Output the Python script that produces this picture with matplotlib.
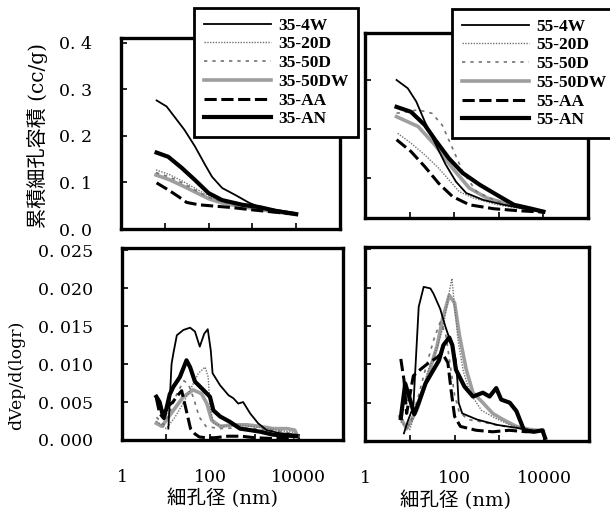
import numpy as np
import matplotlib
matplotlib.use("Agg")
from matplotlib import pyplot as plt
from matplotlib.font_manager import FontProperties

plt.rcParams['font.family'] = ['DejaVu Serif', 'Noto Sans CJK JP']

# ---- cumulative pore volume (cc/g), 35 samples ----
d_35_4W_cum = [6.5, 11, 16.6, 28, 49, 83, 120, 204, 407, 851, 1700, 3400, 10000]
v_35_4W_cum = [0.276, 0.263, 0.241, 0.213, 0.177, 0.138, 0.112, 0.088, 0.073, 0.056, 0.045, 0.041, 0.034]
d_35_AN_cum = [6.5, 12, 24.5, 49, 100, 204, 589, 1445, 3400, 10000]
v_35_AN_cum = [0.164, 0.155, 0.131, 0.105, 0.077, 0.062, 0.052, 0.047, 0.039, 0.032]
d_35_AA_cum = [6.5, 12, 20.9, 31.6, 60, 141, 347, 1000, 3400, 10000]
v_35_AA_cum = [0.099, 0.084, 0.069, 0.057, 0.052, 0.049, 0.046, 0.041, 0.036, 0.032]
d_35_gray_cum = [6.3, 12.6, 25.1, 50.1, 100, 200, 501, 1259, 3162, 10000]
v_35_20D_cum = [0.127, 0.117, 0.103, 0.087, 0.071, 0.060, 0.052, 0.045, 0.039, 0.032]
v_35_50D_cum = [0.121, 0.112, 0.099, 0.083, 0.068, 0.058, 0.050, 0.044, 0.038, 0.031]
v_35_50DW_cum = [0.116, 0.106, 0.093, 0.079, 0.065, 0.056, 0.049, 0.043, 0.037, 0.031]

# ---- cumulative pore volume (cc/g), 55 samples ----
d_55_4W_cum = [5.1, 9.1, 14.1, 21.9, 37.2, 64.6, 110, 186, 447, 1288, 3802, 10000]
v_55_4W_cum = [0.300, 0.283, 0.256, 0.215, 0.171, 0.127, 0.092, 0.069, 0.055, 0.045, 0.037, 0.030]
d_55_AN_cum = [5.1, 10.7, 21.9, 37.2, 75.9, 155, 372, 912, 2188, 5370, 10000]
v_55_AN_cum = [0.245, 0.235, 0.208, 0.178, 0.140, 0.110, 0.086, 0.065, 0.045, 0.037, 0.031]
d_55_AA_cum = [5.1, 10.7, 21.9, 44.7, 91.2, 219, 759, 2630, 10000]
v_55_AA_cum = [0.178, 0.154, 0.123, 0.089, 0.062, 0.045, 0.037, 0.033, 0.030]
d_55_50DW_cum = [5.1, 15.5, 37.2, 91.2, 219, 537, 1862, 7586, 10000]
v_55_50DW_cum = [0.225, 0.205, 0.167, 0.120, 0.079, 0.059, 0.045, 0.033, 0.031]
d_55_50D_cum = [5.1, 10, 15.5, 31.6, 53.7, 91.2, 155, 316, 912, 2500, 10000]
v_55_50D_cum = [0.232, 0.236, 0.239, 0.232, 0.208, 0.161, 0.113, 0.072, 0.052, 0.040, 0.031]
d_55_20D_cum = [5.4, 10.7, 21.9, 44.7, 75.9, 129, 263, 912, 3162, 10000]
v_55_20D_cum = [0.191, 0.171, 0.147, 0.120, 0.096, 0.072, 0.059, 0.045, 0.037, 0.031]

# ---- dVp/d(log r), 35 samples ----
d_35_4W = [11.2, 13.2, 14.5, 17.4, 24.5, 34.7, 44.7, 57.5, 72.4, 87.1, 102, 112, 166, 257, 331, 427, 550, 794, 1202, 1862, 3715, 8913]
v_35_4W = [0.0015, 0.0100, 0.0114, 0.0138, 0.0145, 0.0148, 0.0143, 0.0123, 0.0140, 0.0146, 0.0118, 0.0088,
           0.0072, 0.0059, 0.0055, 0.0048, 0.0050, 0.0035, 0.0022, 0.0013, 0.0009, 0.0007]
d_35_AN = [6.0, 7.1, 8.5, 10, 12, 14.5, 20.4, 28.8, 34.7, 44.7, 69.2, 97.7, 117, 166, 275, 468, 794, 1318, 2630, 8913]
v_35_AN = [0.0057, 0.0050, 0.0031, 0.0040, 0.0060, 0.0070, 0.0083, 0.0105, 0.0096, 0.0077, 0.0066, 0.0057,
           0.0039, 0.0031, 0.0024, 0.0015, 0.0013, 0.0011, 0.0007, 0.0005]
d_35_AA = [6.0, 7.1, 8.9, 11.2, 14.1, 17.8, 22.4, 28.2, 35.5, 44.7, 56.2, 79.4, 126, 251, 501, 1000, 2512, 7943]
v_35_AA = [0.0055, 0.0035, 0.0028, 0.0045, 0.0050, 0.0058, 0.0065, 0.0040, 0.0015, 0.0008, 0.0004, 0.0003,
           0.0003, 0.0005, 0.0005, 0.0003, 0.0002, 0.0002]
d_35_20D = [6.0, 10, 15.8, 22.4, 34.7, 53.7, 75.9, 89.1, 97.7, 117, 195, 398, 794, 1585, 3162, 7943]
v_35_20D = [0.0025, 0.0015, 0.0030, 0.0045, 0.0066, 0.0088, 0.0096, 0.0083, 0.0044, 0.0022, 0.0018, 0.0020,
            0.0018, 0.0016, 0.0013, 0.0010]
d_35_50D = [6.0, 8.9, 12.6, 17.8, 25.1, 31.6, 41.7, 56.2, 79.4, 158, 398, 1000, 3162, 7943]
v_35_50D = [0.0030, 0.0020, 0.0040, 0.0062, 0.0078, 0.0074, 0.0055, 0.0030, 0.0018, 0.0015, 0.0016, 0.0015,
            0.0012, 0.0008]
d_35_50DW = [6.0, 8.0, 14.5, 24.5, 40.7, 63.1, 83.2, 107, 166, 331, 661, 1318, 2630, 5370, 8128, 9333]
v_35_50DW = [0.0022, 0.0018, 0.0039, 0.0057, 0.0066, 0.0061, 0.0048, 0.0026, 0.0018, 0.0020, 0.0020, 0.0018,
             0.0015, 0.0015, 0.0013, 0.0005]

# ---- dVp/d(log r), 55 samples ----
d_55_4W = [7.4, 8.9, 12, 15.8, 20.4, 28.8, 33.9, 47.9, 61.7, 87.1, 105, 115, 123, 148, 316, 891, 2512, 7413]
v_55_4W = [0.0010, 0.0025, 0.0045, 0.0175, 0.0201, 0.0199, 0.0192, 0.0172, 0.0150, 0.0124, 0.0107, 0.0080,
           0.0050, 0.0036, 0.0028, 0.0021, 0.0017, 0.0012]
d_55_AN = [6.3, 7.9, 10, 12.6, 15.8, 22.4, 31.6, 44.7, 56.2, 75.9, 89.1, 107, 166, 257, 427, 603, 851, 1096,
           1698, 2399, 3548, 5888, 9120, 10470]
v_55_AN = [0.0030, 0.0075, 0.0055, 0.0035, 0.0050, 0.0075, 0.0090, 0.0105, 0.0125, 0.0135, 0.0125, 0.0093,
           0.0071, 0.0058, 0.0063, 0.0058, 0.0069, 0.0054, 0.0050, 0.0039, 0.0014, 0.0012, 0.0014, 0.0004]
d_55_AA = [6.3, 7.4, 8.5, 12, 17, 24, 40.7, 52.5, 70.8, 83.2, 100, 135, 302, 708, 1660, 3981, 7943]
v_55_AA = [0.0107, 0.0080, 0.0036, 0.0085, 0.0093, 0.0100, 0.0109, 0.0115, 0.0102, 0.0067, 0.0032, 0.0019,
           0.0014, 0.0012, 0.0014, 0.0012, 0.0013]
d_55_50DW = [6.0, 8.5, 14.5, 24, 40.7, 53.7, 75.9, 100, 129, 182, 257, 427, 708, 1202, 2399, 4786, 9550]
v_55_50DW = [0.0032, 0.0016, 0.0041, 0.0080, 0.0124, 0.0159, 0.0190, 0.0180, 0.0137, 0.0093, 0.0063, 0.0050,
             0.0036, 0.0028, 0.0019, 0.0015, 0.0013]
d_55_20D = [6.3, 10, 15.8, 25.1, 39.8, 56.2, 70.8, 87.1, 100, 120, 158, 224, 398, 794, 1585, 3162, 7943]
v_55_20D = [0.0025, 0.0015, 0.0050, 0.0090, 0.0120, 0.0150, 0.0185, 0.0212, 0.0175, 0.0130, 0.0090, 0.0062,
            0.0040, 0.0030, 0.0022, 0.0017, 0.0012]
d_55_50D = [6.3, 10, 15.8, 25.1, 35.5, 47.9, 63.1, 79.4, 100, 126, 200, 398, 1000, 3162, 8913]
v_55_50D = [0.0030, 0.0020, 0.0060, 0.0105, 0.0135, 0.0155, 0.0140, 0.0100, 0.0060, 0.0038, 0.0028, 0.0025,
            0.0020, 0.0016, 0.0012]

keys = ['4W', '20D', '50D', '50DW', 'AA', 'AN']
styles = {
    '4W':   dict(color='black', lw=1.3, ls='-'),
    '20D':  dict(color='0.45', lw=1.0, ls=(0, (1, 1))),
    '50D':  dict(color='0.45', lw=1.2, ls=(0, (2, 3))),
    '50DW': dict(color='0.62', lw=2.6, ls='-'),
    'AA':   dict(color='black', lw=2.2, ls=(0, (4, 1.5))),
    'AN':   dict(color='black', lw=3.0, ls='-'),
}

panels = {
    'tl': {'4W': (d_35_4W_cum, v_35_4W_cum), '20D': (d_35_gray_cum, v_35_20D_cum),
           '50D': (d_35_gray_cum, v_35_50D_cum), '50DW': (d_35_gray_cum, v_35_50DW_cum),
           'AA': (d_35_AA_cum, v_35_AA_cum), 'AN': (d_35_AN_cum, v_35_AN_cum)},
    'tr': {'4W': (d_55_4W_cum, v_55_4W_cum), '20D': (d_55_20D_cum, v_55_20D_cum),
           '50D': (d_55_50D_cum, v_55_50D_cum), '50DW': (d_55_50DW_cum, v_55_50DW_cum),
           'AA': (d_55_AA_cum, v_55_AA_cum), 'AN': (d_55_AN_cum, v_55_AN_cum)},
    'bl': {'4W': (d_35_4W, v_35_4W), '20D': (d_35_20D, v_35_20D), '50D': (d_35_50D, v_35_50D),
           '50DW': (d_35_50DW, v_35_50DW), 'AA': (d_35_AA, v_35_AA), 'AN': (d_35_AN, v_35_AN)},
    'br': {'4W': (d_55_4W, v_55_4W), '20D': (d_55_20D, v_55_20D), '50D': (d_55_50D, v_55_50D),
           '50DW': (d_55_50DW, v_55_50DW), 'AA': (d_55_AA, v_55_AA), 'AN': (d_55_AN, v_55_AN)},
}

W, H = 610, 513
fig = plt.figure(figsize=(W / 100, H / 100), dpi=100)

def px_axes(l, r, t, b):
    return fig.add_axes([l / W, (H - b) / H, (r - l) / W, (b - t) / H])

axes = {
    'tl': px_axes(121, 340, 38, 229),
    'tr': px_axes(365, 588, 33, 218),
    'bl': px_axes(122, 343, 248, 440),
    'br': px_axes(365, 589, 247, 441),
}

tick_font = dict(family=['DejaVu Serif'], size=12.5)
handles = {}
for name, ax in axes.items():
    data = panels[name]
    for k in ['50DW', '20D', '50D', 'AA', '4W', 'AN']:
        d, v = data[k]
        st = styles[k]
        line, = ax.plot(d, v, color=st['color'], lw=st['lw'], ls=st['ls'])
        handles.setdefault(name, {})[k] = line
    ax.set_xscale('log')
    ax.set_xlim(1, 1e5)
    ax.set_xticks([1, 10, 100, 1000, 10000])
    ax.xaxis.set_minor_locator(matplotlib.ticker.NullLocator())
    for s in ax.spines.values():
        s.set_linewidth(2.4)
    ax.tick_params(direction='in', length=4, width=1.2, top=False, right=False, pad=21)
    if name in ('tl', 'tr'):
        ax.set_xticklabels([])
        ax.set_yticks([0, 0.1, 0.2, 0.3, 0.4])
        ax.set_yticklabels(['0. 0', '0. 1', '0. 2', '0. 3', '0. 4'], **tick_font)
    else:
        ax.set_xticklabels(['1', '', '100', '', '10000'], **tick_font)
        ax.set_yticks([0, 0.005, 0.010, 0.015, 0.020, 0.025])
        ax.set_yticklabels(['0. 000', '0. 005', '0. 010', '0. 015', '0. 020', '0. 025'], **tick_font)
    if name in ('tr', 'br'):
        ax.tick_params(labelleft=False)

axes['tl'].set_ylim(0, 0.41)
axes['tr'].set_ylim(0.018, 0.396)
axes['bl'].set_ylim(0, 0.0253)
axes['br'].set_ylim(0, 0.0253)

axes['tl'].set_ylabel('累積細孔容積 (cc/g)', fontsize=14.5)
axes['tl'].yaxis.set_label_coords(-0.333, 0.487)
axes['bl'].set_ylabel('dVep/d(logr)', fontsize=12.5)
axes['bl'].yaxis.set_label_coords(-0.439, 0.339)
axes['bl'].set_xlabel('細孔径 (nm)', fontsize=14)
axes['bl'].xaxis.set_label_coords(0.457, -0.255)
axes['br'].set_xlabel('細孔径 (nm)', fontsize=14)
axes['br'].xaxis.set_label_coords(0.406, -0.255)

leg_font = FontProperties(family='Liberation Serif', weight='bold', size=12.5)
for name, prefix, x0, y0 in [('tl', '35', 194, 8), ('tr', '55', 452, 9)]:
    leg = fig.legend([handles[name][k] for k in keys], [prefix + '-' + k for k in keys],
                     loc='upper left', bbox_to_anchor=(x0 / W, 1 - y0 / H),
                     bbox_transform=fig.transFigure, borderaxespad=0, prop=leg_font,
                     fancybox=False, framealpha=1, edgecolor='black',
                     handlelength=3.9, handletextpad=0.4, labelspacing=0.15, borderpad=0.55)
    leg.get_frame().set_linewidth(2)

fig.savefig('out.png', dpi=100)
